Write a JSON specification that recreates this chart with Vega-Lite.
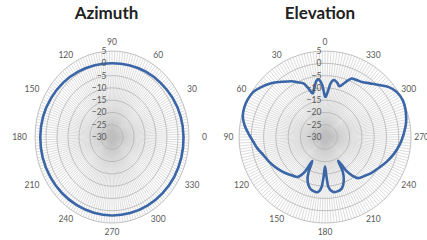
{
  "$schema": "https://vega.github.io/schema/vega-lite/v6.json",
  "padding": {"top": 5, "left": 0, "right": 0, "bottom": 0},
  "spacing": 0,
  "config": {
    "view": {"stroke": null},
    "title": {"font": "Lato", "fontSize": 17, "fontWeight": "bold", "color": "#222222", "offset": 3, "dy": 4, "anchor": "middle"}
  },
  "datasets": {
    "spokes": [{"a":0},{"a":2},{"a":4},{"a":6},{"a":8},{"a":10},{"a":12},{"a":14},{"a":16},{"a":18},{"a":20},{"a":22},{"a":24},{"a":26},{"a":28},{"a":30},{"a":32},{"a":34},{"a":36},{"a":38},{"a":40},{"a":42},{"a":44},{"a":46},{"a":48},{"a":50},{"a":52},{"a":54},{"a":56},{"a":58},{"a":60},{"a":62},{"a":64},{"a":66},{"a":68},{"a":70},{"a":72},{"a":74},{"a":76},{"a":78},{"a":80},{"a":82},{"a":84},{"a":86},{"a":88},{"a":90},{"a":92},{"a":94},{"a":96},{"a":98},{"a":100},{"a":102},{"a":104},{"a":106},{"a":108},{"a":110},{"a":112},{"a":114},{"a":116},{"a":118},{"a":120},{"a":122},{"a":124},{"a":126},{"a":128},{"a":130},{"a":132},{"a":134},{"a":136},{"a":138},{"a":140},{"a":142},{"a":144},{"a":146},{"a":148},{"a":150},{"a":152},{"a":154},{"a":156},{"a":158},{"a":160},{"a":162},{"a":164},{"a":166},{"a":168},{"a":170},{"a":172},{"a":174},{"a":176},{"a":178}],
    "rings": [{"db":5},{"db":0},{"db":-5},{"db":-10},{"db":-15},{"db":-20},{"db":-25}],
    "ringlabels": [{"db":5},{"db":0},{"db":-5},{"db":-10},{"db":-15},{"db":-20},{"db":-25},{"db":-30}],
    "ticks": [{"t":0},{"t":30},{"t":60},{"t":90},{"t":120},{"t":150},{"t":180},{"t":210},{"t":240},{"t":270},{"t":300},{"t":330}],
    "az": [{"a":0,"db":2.5},{"a":15,"db":2.3},{"a":30,"db":1.8},{"a":45,"db":1.2},{"a":60,"db":0.7},{"a":75,"db":0.2},{"a":90,"db":0},{"a":105,"db":0.2},{"a":120,"db":0.7},{"a":135,"db":1.3},{"a":150,"db":1.9},{"a":165,"db":2.4},{"a":180,"db":2.6},{"a":195,"db":2.6},{"a":210,"db":2.4},{"a":225,"db":2.2},{"a":240,"db":2.0},{"a":255,"db":1.9},{"a":270,"db":1.9},{"a":285,"db":2.0},{"a":300,"db":2.2},{"a":315,"db":2.4},{"a":330,"db":2.6},{"a":345,"db":2.6}],
    "el": [{"a":0,"db":-13.5},{"a":3,"db":-9},{"a":6,"db":-6.5},{"a":9,"db":-7},{"a":13,"db":-10},{"a":16,"db":-11.5},{"a":19,"db":-9},{"a":22,"db":-6.5},{"a":27,"db":-5},{"a":31,"db":-3.5},{"a":38,"db":-1.5},{"a":45,"db":1},{"a":52,"db":3},{"a":58,"db":4.5},{"a":64,"db":5},{"a":70,"db":5},{"a":76,"db":4.5},{"a":82,"db":3},{"a":88,"db":1},{"a":94,"db":-0.8},{"a":100,"db":-2.2},{"a":106,"db":-3.8},{"a":113,"db":-5},{"a":121,"db":-6.3},{"a":128,"db":-7.5},{"a":134,"db":-8.5},{"a":140,"db":-9.5},{"a":146,"db":-10.5},{"a":150,"db":-14},{"a":152,"db":-19},{"a":155,"db":-14},{"a":158,"db":-11},{"a":163,"db":-8.5},{"a":168,"db":-7.5},{"a":173,"db":-7.5},{"a":176,"db":-9.5},{"a":178,"db":-14},{"a":180,"db":-18},{"a":182,"db":-14},{"a":184,"db":-9.5},{"a":188,"db":-7.5},{"a":193,"db":-7.3},{"a":198,"db":-8},{"a":203,"db":-10.5},{"a":207,"db":-14},{"a":209,"db":-19},{"a":212,"db":-14},{"a":215,"db":-11},{"a":219,"db":-8.5},{"a":225,"db":-7.5},{"a":232,"db":-6.2},{"a":240,"db":-4.8},{"a":248,"db":-3},{"a":256,"db":-1.2},{"a":264,"db":0.5},{"a":272,"db":2},{"a":280,"db":3.5},{"a":288,"db":4.5},{"a":295,"db":5},{"a":302,"db":4.5},{"a":308,"db":3},{"a":314,"db":0.5},{"a":320,"db":-1.5},{"a":326,"db":-3},{"a":331,"db":-3.5},{"a":336,"db":-4},{"a":340,"db":-6.5},{"a":344,"db":-8.5},{"a":347,"db":-7.5},{"a":351,"db":-6.5},{"a":354,"db":-8},{"a":357,"db":-12}]
  },
  "hconcat": [
    {
      "title": "Azimuth",
      "width": 213,
      "height": 219,
      "encoding": {
        "x": {"field": "px", "type": "quantitative", "scale": {"domain": [-50.9, 45.9], "nice": false, "zero": false}, "axis": null},
        "y": {"field": "py", "type": "quantitative", "scale": {"domain": [-42.3, 46.8], "nice": false, "zero": false}, "axis": null}
      },
      "layer": [
        {
          "data": {"name": "spokes"},
          "transform": [
            {"calculate": "35*cos(datum.a*PI/180)", "as": "qx"},
            {"calculate": "35*sin(datum.a*PI/180)", "as": "qy"},
            {"calculate": "-datum.qx", "as": "px"},
            {"calculate": "-datum.qy", "as": "py"}
          ],
          "mark": {"type": "rule", "stroke": "#bfbfbf", "strokeWidth": 0.55},
          "encoding": {"x2": {"field": "qx"}, "y2": {"field": "qy"}}
        },
        {
          "data": {"name": "rings"},
          "transform": [
            {"calculate": "datum.db+30", "as": "r"},
            {"calculate": "0", "as": "px"},
            {"calculate": "0", "as": "py"}
          ],
          "mark": {"type": "point", "shape": "M-0.895,0A0.895,1,0,1,1,0.895,0A0.895,1,0,1,1,-0.895,0Z", "filled": false, "stroke": "#b3b3b3", "strokeWidth": 0.8, "opacity": 1},
          "encoding": {"size": {"field": "r", "type": "quantitative", "scale": {"type": "pow", "exponent": 2, "domain": [0, 35], "range": [0, 29584]}, "legend": null}}
        },
        {
          "data": {"name": "az"},
          "transform": [
            {"calculate": "datum.db+30", "as": "r"},
            {"calculate": "datum.r*cos(datum.a*PI/180)", "as": "px"},
            {"calculate": "datum.r*sin(datum.a*PI/180)", "as": "py"}
          ],
          "mark": {"type": "line", "interpolate": "cardinal-closed", "stroke": "#3a66a7", "strokeWidth": 2.6},
          "encoding": {"order": {"field": "a", "type": "quantitative"}}
        },
        {
          "data": {"name": "ringlabels"},
          "transform": [
            {"calculate": "datum.db+30", "as": "py"},
            {"calculate": "-2.5", "as": "px"}
          ],
          "mark": {"type": "text", "font": "Lato", "fontSize": 8.5, "color": "#595959", "align": "right", "baseline": "middle"},
          "encoding": {"text": {"field": "db", "type": "quantitative"}}
        },
        {
          "data": {"name": "ticks"},
          "transform": [
            {"calculate": "42*cos(datum.t*PI/180)", "as": "px"},
            {"calculate": "38.7*sin(datum.t*PI/180)", "as": "py"}
          ],
          "mark": {"type": "text", "font": "Lato", "fontSize": 8.5, "color": "#595959", "align": "center", "baseline": "middle"},
          "encoding": {"text": {"field": "t", "type": "quantitative"}}
        }
      ]
    },
    {
      "title": "Elevation",
      "width": 214,
      "height": 219,
      "encoding": {
        "x": {"field": "px", "type": "quantitative", "scale": {"domain": [-45.6, 41.5], "nice": false, "zero": false}, "axis": null},
        "y": {"field": "py", "type": "quantitative", "scale": {"domain": [-42.3, 46.8], "nice": false, "zero": false}, "axis": null}
      },
      "layer": [
        {
          "data": {"name": "spokes"},
          "transform": [
            {"calculate": "35*cos(datum.a*PI/180)", "as": "qx"},
            {"calculate": "35*sin(datum.a*PI/180)", "as": "qy"},
            {"calculate": "-datum.qx", "as": "px"},
            {"calculate": "-datum.qy", "as": "py"}
          ],
          "mark": {"type": "rule", "stroke": "#bfbfbf", "strokeWidth": 0.55},
          "encoding": {"x2": {"field": "qx"}, "y2": {"field": "qy"}}
        },
        {
          "data": {"name": "rings"},
          "transform": [
            {"calculate": "datum.db+30", "as": "r"},
            {"calculate": "0", "as": "px"},
            {"calculate": "0", "as": "py"}
          ],
          "mark": {"type": "point", "shape": "M-1,0A1,1,0,1,1,1,0A1,1,0,1,1,-1,0Z", "filled": false, "stroke": "#b3b3b3", "strokeWidth": 0.8, "opacity": 1},
          "encoding": {"size": {"field": "r", "type": "quantitative", "scale": {"type": "pow", "exponent": 2, "domain": [0, 35], "range": [0, 29584]}, "legend": null}}
        },
        {
          "data": {"name": "el"},
          "transform": [
            {"calculate": "datum.db+30", "as": "r"},
            {"calculate": "datum.r*cos((datum.a+90)*PI/180)", "as": "px"},
            {"calculate": "datum.r*sin((datum.a+90)*PI/180)", "as": "py"}
          ],
          "mark": {"type": "line", "interpolate": "cardinal-closed", "stroke": "#3a66a7", "strokeWidth": 2.6},
          "encoding": {"order": {"field": "a", "type": "quantitative"}}
        },
        {
          "data": {"name": "ringlabels"},
          "transform": [
            {"calculate": "datum.db+30", "as": "py"},
            {"calculate": "-1.5", "as": "px"}
          ],
          "mark": {"type": "text", "font": "Lato", "fontSize": 8.5, "color": "#595959", "align": "right", "baseline": "middle"},
          "encoding": {"text": {"field": "db", "type": "quantitative"}}
        },
        {
          "data": {"name": "ticks"},
          "transform": [
            {"calculate": "39.3*cos((datum.t+90)*PI/180)", "as": "px"},
            {"calculate": "38.7*sin((datum.t+90)*PI/180)", "as": "py"}
          ],
          "mark": {"type": "text", "font": "Lato", "fontSize": 8.5, "color": "#595959", "align": "center", "baseline": "middle"},
          "encoding": {"text": {"field": "t", "type": "quantitative"}}
        }
      ]
    }
  ]
}
